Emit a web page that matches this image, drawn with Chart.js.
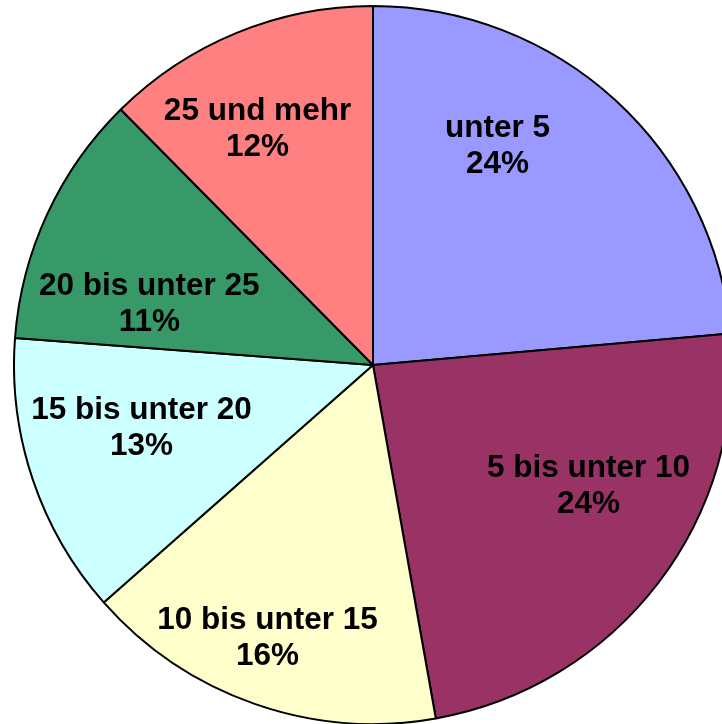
<!DOCTYPE html>
<html lang="de">
<head>
    <meta charset="UTF-8">
    <title>Anteile nach Größenklassen</title>
    <script src="https://cdn.jsdelivr.net/npm/chart.js"></script>
    <style>
        html, body {
            margin: 0;
            padding: 0;
            background: #ffffff;
            overflow: hidden;
        }
        #wrap {
            position: absolute;
            left: 13px;
            top: 5px;
            width: 720px;
            height: 720px;
        }
    </style>
</head>
<body>
    <div id="wrap"><canvas id="pieChart" width="720" height="720"></canvas></div>

    <script>
        // data
        const categories = ['unter 5', '5 bis unter 10', '10 bis unter 15', '15 bis unter 20', '20 bis unter 25', '25 und mehr'];
        const shares = [23.6, 23.6, 16.3, 12.7, 11.4, 12.4];

        // styling
        const colors = ['#9999ff', '#993366', '#ffffcc', '#ccffff', '#389968', '#ff8080'];
        // label placement: [angle shift in degrees, distance as fraction of radius]
        const labelPlacement = [[-13, 0.705], [-8.5, 0.686], [2, 0.81], [3.8, 0.667], [-9.2, 0.647], [-3.6, 0.736]];

        const sliceLabels = {
            id: 'sliceLabels',
            afterDatasetsDraw(chart) {
                const ctx = chart.ctx;
                const total = shares.reduce((a, b) => a + b, 0);
                const arcs = chart.getDatasetMeta(0).data;
                ctx.save();
                ctx.font = 'bold 31.5px "Liberation Sans", Arial, sans-serif';
                ctx.fillStyle = '#000000';
                ctx.textAlign = 'center';
                ctx.textBaseline = 'middle';
                arcs.forEach((arc, i) => {
                    const p = arc.getProps(['x', 'y', 'startAngle', 'endAngle', 'outerRadius'], true);
                    const mid = (p.startAngle + p.endAngle) / 2 + labelPlacement[i][0] * Math.PI / 180;
                    const r = p.outerRadius * labelPlacement[i][1];
                    const cx = p.x + Math.cos(mid) * r;
                    const cy = p.y + Math.sin(mid) * r;
                    const pct = Math.round(shares[i] / total * 100) + '%';
                    ctx.fillText(categories[i], cx, cy - 16);
                    ctx.fillText(pct, cx, cy + 20);
                });
                ctx.restore();
            }
        };

        new Chart(document.getElementById('pieChart'), {
            type: 'pie',
            data: {
                labels: categories,
                datasets: [{
                    data: shares,
                    backgroundColor: colors,
                    borderColor: '#000000',
                    borderWidth: 2,
                    borderAlign: 'center'
                }]
            },
            options: {
                responsive: false,
                animation: false,
                devicePixelRatio: 1,
                layout: { padding: 0 },
                plugins: {
                    legend: { display: false },
                    tooltip: { enabled: false }
                }
            },
            plugins: [sliceLabels]
        });
    </script>
</body>
</html>
